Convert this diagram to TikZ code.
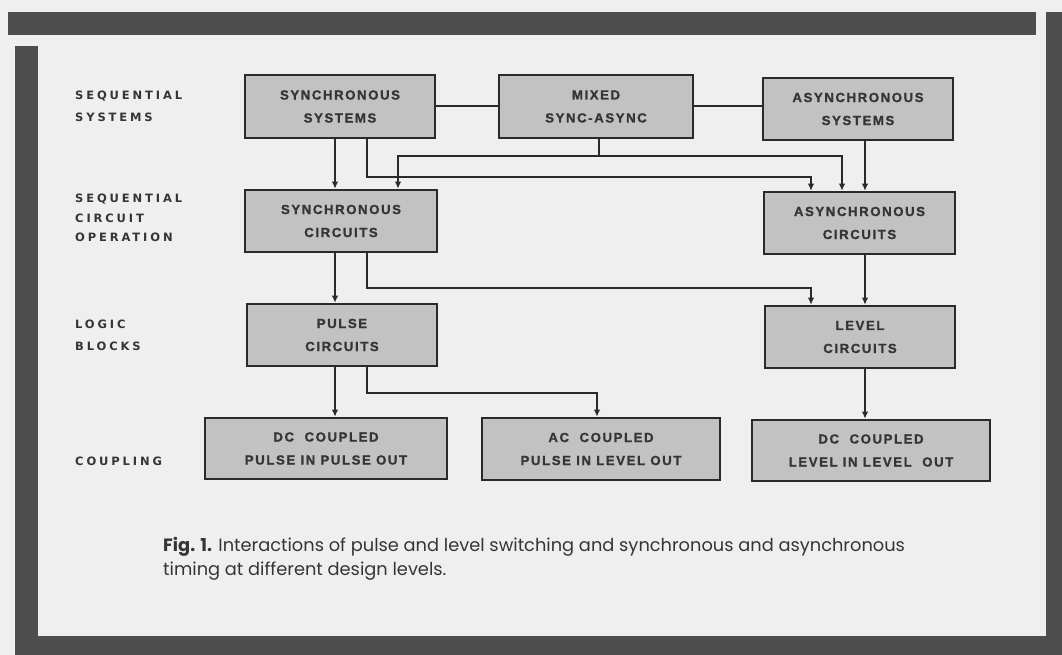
\documentclass[tikz,border=0pt]{standalone}
\usepackage{fontspec}
\setmainfont{Liberation Sans}
\newfontfamily\boxfont[LetterSpace=12,BoldFeatures={FakeBold=1.2}]{Liberation Sans}
\newfontfamily\rowfont[LetterSpace=25]{DejaVu Sans}
\newfontfamily\capfont{Poppins}
\usetikzlibrary{arrows.meta}
\definecolor{bg}{HTML}{EFEFEF}
\definecolor{boxgray}{HTML}{C2C2C2}
\definecolor{bar}{HTML}{4E4E4E}
\definecolor{ink}{HTML}{2A2A2A}
\definecolor{txt}{HTML}{353535}
\tikzset{
  blk/.style={draw=ink, line width=2.6pt, fill=boxgray, inner sep=0pt, align=center,
    text=txt, font=\boxfont\bfseries\fontsize{13.2}{23}\selectfont},
  rowlab/.style={anchor=west, inner sep=0pt, align=left, text=txt,
    font=\rowfont\bfseries\fontsize{11.5}{22}\selectfont},
  con/.style={draw=ink, line width=2pt},
  arr/.style={con, -{Latex[length=7pt,width=6.5pt]}},
}
\begin{document}
\begin{tikzpicture}[x=1pt,y=-1pt]
\useasboundingbox (0,0) rectangle (1062,655);
\fill[bg] (0,0) rectangle (1062,655);
% frame bars
\fill[bar] (8,12) rectangle (1036,35);
\fill[bar] (1046,12) rectangle (1062,655);
\fill[bar] (15,46) rectangle (38,655);
\fill[bar] (38,636) rectangle (1062,655);
% row labels
\node[rowlab] (r1) at (75,106.5) {SEQUENTIAL\\SYSTEMS};
\node[rowlab, font=\rowfont\bfseries\fontsize{11.5}{19.5}\selectfont] (r2) at (75,218) {SEQUENTIAL\\CIRCUIT\\OPERATION};
\node[rowlab] (r3) at (75,335.5) {LOGIC\\BLOCKS};
\node[rowlab] (r4) at (75,461) {COUPLING};
% boxes
\node[blk, minimum width=190pt, minimum height=63pt] (A) at (340,106.5) {SYNCHRONOUS\\SYSTEMS};
\node[blk, minimum width=194pt, minimum height=63pt] (B) at (596,106.5) {MIXED\\SYNC-ASYNC};
\node[blk, minimum width=190pt, minimum height=62pt] (C) at (858,109) {ASYNCHRONOUS\\SYSTEMS};
\node[blk, minimum width=192pt, minimum height=62pt] (D) at (341,221) {SYNCHRONOUS\\CIRCUITS};
\node[blk, minimum width=191pt, minimum height=62pt] (E) at (859.5,223) {ASYNCHRONOUS\\CIRCUITS};
\node[blk, minimum width=190pt, minimum height=62pt] (F) at (342,335) {PULSE\\CIRCUITS};
\node[blk, minimum width=190pt, minimum height=62pt] (G) at (860,337) {LEVEL\\CIRCUITS};
\node[blk, minimum width=242pt, minimum height=61pt] (H) at (326,448.5) {DC\ \ COUPLED\\PULSE IN PULSE OUT};
\node[blk, minimum width=238pt, minimum height=62pt] (I) at (601,449) {AC\ \ COUPLED\\PULSE IN LEVEL OUT};
\node[blk, minimum width=238pt, minimum height=61pt] (J) at (871,450.5) {DC\ \ COUPLED\\LEVEL IN LEVEL\ \ OUT};
% helper coordinates
\coordinate (x1) at (335,0);
\coordinate (x2) at (367,0);
\coordinate (x3) at (398,0);
\coordinate (x4) at (599,0);
\coordinate (x5) at (597,0);
\coordinate (x6) at (811,0);
\coordinate (x7) at (842,0);
\coordinate (x8) at (865,0);
\coordinate (y1) at (0,156);
\coordinate (y2) at (0,177);
\coordinate (y3) at (0,288);
\coordinate (y4) at (0,393);
% connectors
\draw[con] (A.east) -- (B.west);
\draw[con] (B.east) -- (B.east -| C.west);
\draw[arr] (A.south -| x1) -- (D.north -| x1);
\draw[arr] (A.south -| x2) |- (x6 |- y2) -- (E.north -| x6);
\draw[con] (B.south -| x4) -- (x4 |- y1);
\draw[arr] (x4 |- y1) -| (D.north -| x3);
\draw[arr] (x4 |- y1) -| (E.north -| x7);
\draw[arr] (C.south -| x8) -- (E.north -| x8);
\draw[arr] (D.south -| x1) -- (F.north -| x1);
\draw[arr] (D.south -| x2) |- (x6 |- y3) -- (G.north -| x6);
\draw[arr] (E.south -| x8) -- (G.north -| x8);
\draw[arr] (F.south -| x1) -- (H.north -| x1);
\draw[arr] (F.south -| x2) |- (x5 |- y4) -- (I.north -| x5);
\draw[arr] (G.south -| x8) -- (J.north -| x8);
% caption
\node[anchor=base west, inner sep=0pt, align=left, text=txt,
  font=\capfont\fontsize{17.8}{24}\selectfont] (cap) at (163,575)
  {{\bfseries Fig. 1.} Interactions of pulse and level switching and synchronous and asynchronous\\
   timing at different design levels.};
\end{tikzpicture}
\end{document}
